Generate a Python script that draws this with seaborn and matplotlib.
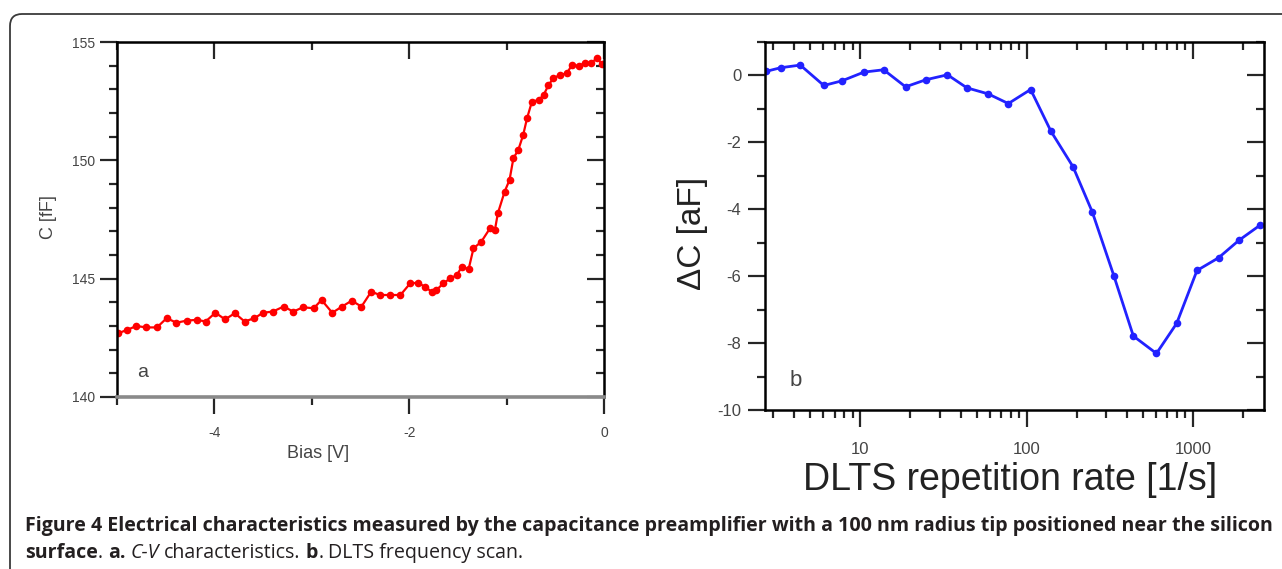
import numpy as np
import matplotlib.pyplot as plt
import seaborn as sns
from matplotlib.ticker import MultipleLocator, LogLocator, NullFormatter, FuncFormatter
from matplotlib.patches import FancyBboxPatch
from matplotlib.transforms import IdentityTransform

sns.set_style('ticks')
plt.rcParams['font.family'] = ['Liberation Sans', 'DejaVu Sans']
plt.rcParams['axes.unicode_minus'] = False

# panel a: C-V curve
bias = [-4.99, -4.90, -4.80, -4.70, -4.59, -4.49, -4.39, -4.28, -4.18, -4.09,
        -3.99, -3.89, -3.79, -3.69, -3.59, -3.50, -3.40, -3.29, -3.19, -3.09,
        -2.98, -2.90, -2.79, -2.69, -2.59, -2.49, -2.39, -2.30, -2.20, -2.09,
        -1.99, -1.91, -1.84, -1.77, -1.72, -1.65, -1.58, -1.51, -1.46, -1.39,
        -1.34, -1.26, -1.17, -1.12, -1.09, -1.02, -0.97, -0.93, -0.88, -0.83,
        -0.79, -0.74, -0.67, -0.62, -0.57, -0.52, -0.45, -0.38, -0.33, -0.26,
        -0.20, -0.13, -0.07, -0.02]
cap = [142.69, 142.83, 143.00, 142.94, 142.94, 143.33, 143.14, 143.23, 143.26, 143.19,
       143.56, 143.28, 143.54, 143.19, 143.33, 143.56, 143.61, 143.82, 143.61, 143.79,
       143.75, 144.10, 143.56, 143.82, 144.07, 143.82, 144.45, 144.31, 144.31, 144.31,
       144.80, 144.83, 144.66, 144.45, 144.52, 144.80, 145.01, 145.15, 145.51, 145.40,
       146.28, 146.56, 147.13, 147.06, 147.76, 148.68, 149.17, 150.09, 150.44, 151.07,
       151.78, 152.48, 152.55, 152.76, 153.18, 153.47, 153.61, 153.68, 154.03, 153.99,
       154.10, 154.13, 154.31, 154.06]

# panel b: DLTS frequency scan
rate = [2.7, 3.31, 4.35, 6.03, 7.76, 10.5, 13.8, 18.7, 24.7, 33.4, 43.7, 58.6,
        77.6, 105.6, 140, 190, 248, 334, 438, 603, 798, 1057, 1425, 1887, 2524]
dcap = [0.12, 0.23, 0.31, -0.30, -0.16, 0.10, 0.17, -0.34, -0.13, 0.02, -0.37, -0.55,
        -0.84, -0.42, -1.67, -2.73, -4.08, -5.98, -7.79, -8.31, -7.41, -5.83, -5.45,
        -4.93, -4.48]

W, H = 1282, 569
fig = plt.figure(figsize=(W / 100, H / 100), dpi=100)

# rounded frame round the figure
frame = FancyBboxPatch((10, -30), 1320, H - 14 + 30, boxstyle='round,pad=0,rounding_size=12',
                       transform=IdentityTransform(), fill=False, edgecolor='#3a3a3a', linewidth=1.3)
fig.add_artist(frame)


def add_mirror(ax, xloc, xminor, yloc, yminor):
    # Origin style: mirrored ticks pointing inwards on top and right
    top = ax.secondary_xaxis('top')
    right = ax.secondary_yaxis('right')
    top.xaxis.set_major_locator(xloc)
    top.xaxis.set_minor_locator(xminor)
    top.xaxis.set_major_formatter(NullFormatter())
    top.xaxis.set_minor_formatter(NullFormatter())
    right.yaxis.set_major_locator(yloc)
    right.yaxis.set_minor_locator(yminor)
    right.yaxis.set_major_formatter(NullFormatter())
    for sec in (top, right):
        sec.tick_params(which='both', direction='in', width=1.6)
        sec.tick_params(which='major', length=12)
        sec.tick_params(which='minor', length=6)


def style_axes(ax, lab_size, xpad, ypad):
    for s in ax.spines.values():
        s.set_linewidth(1.8)
        s.set_color('black')
    ax.tick_params(which='both', direction='out', top=False, right=False, width=1.6,
                   labelsize=lab_size, labelcolor='#444444')
    ax.tick_params(which='major', length=12)
    ax.tick_params(which='minor', length=6)
    ax.tick_params(axis='x', pad=xpad)
    ax.tick_params(axis='y', pad=ypad)


# ---- panel a ----
axL = fig.add_axes([117 / W, 1 - 397 / H, 487 / W, 355 / H])
sns.lineplot(x=bias, y=cap, ax=axL, color='#ff0000', marker='o', markersize=5.5,
             markeredgewidth=0, linewidth=1.6)
axL.set_xlim(-5, 0)
axL.set_ylim(140, 155)
axL.xaxis.set_major_locator(MultipleLocator(2))
axL.xaxis.set_minor_locator(MultipleLocator(1))
axL.yaxis.set_major_locator(MultipleLocator(5))
axL.yaxis.set_minor_locator(MultipleLocator(1))
style_axes(axL, 10, 9, 4)
axL.spines['bottom'].set_color('#8a8a8a')
axL.spines['bottom'].set_linewidth(2.6)
add_mirror(axL, MultipleLocator(2), MultipleLocator(1), MultipleLocator(5), MultipleLocator(1))

axL.set_xlabel('Bias [V]', fontsize=13, color='#444444')
axL.set_ylabel('C [fF]', fontsize=13, color='#444444')
axL.xaxis.set_label_coords(0.413, -0.16)
axL.xaxis.label.set_va('center')
axL.yaxis.set_label_coords(-0.14, 0.507)
axL.yaxis.label.set_va('center')
axL.text(0.053, 0.07, 'a', transform=axL.transAxes, fontsize=14, color='#444444',
         ha='center', va='center')

# ---- panel b ----
axR = fig.add_axes([765 / W, 1 - 410 / H, 499 / W, 368 / H])
sns.lineplot(x=rate, y=dcap, ax=axR, color='#2222ff', marker='o', markersize=5.5,
             markeredgewidth=0, linewidth=2)
axR.set_xscale('log')
axR.set_xlim(2.67, 2673)
axR.set_ylim(-10, 1)
axR.xaxis.set_major_locator(LogLocator(base=10))
axR.xaxis.set_minor_locator(LogLocator(base=10, subs=np.arange(2, 10)))
axR.xaxis.set_major_formatter(FuncFormatter(lambda v, _: f'{v:g}'))
axR.xaxis.set_minor_formatter(NullFormatter())
axR.yaxis.set_major_locator(MultipleLocator(2))
axR.yaxis.set_minor_locator(MultipleLocator(1))
style_axes(axR, 12, 11, 5)
add_mirror(axR, LogLocator(base=10), LogLocator(base=10, subs=np.arange(2, 10)),
           MultipleLocator(2), MultipleLocator(1))

axR.set_xlabel('DLTS repetition rate [1/s]', fontsize=27, color='#222222')
axR.set_ylabel('ΔC [aF]', fontsize=24, color='#222222')
axR.xaxis.set_label_coords(0.491, -0.19)
axR.xaxis.label.set_va('center')
axR.yaxis.set_label_coords(-0.146, 0.481)
axR.yaxis.label.set_va('center')
axR.text(0.062, 0.079, 'b', transform=axR.transAxes, fontsize=16, color='#444444',
         ha='center', va='center')

# ---- caption ----
renderer = fig.canvas.get_renderer()
cap_font = ['Open Sans', 'DejaVu Sans']
line1 = ('Figure 4 Electrical characteristics measured by the capacitance preamplifier '
         'with a 100 nm radius tip positioned near the silicon')
size = 13.0
for _ in range(4):
    probe = fig.text(0, 0, line1, fontsize=size, weight='bold', family=cap_font)
    w1 = probe.get_window_extent(renderer).width
    probe.remove()
    size = size * 1245 / w1
fig.text(25 / W, 1 - 526 / H, line1, fontsize=size, weight='bold', family=cap_font,
         color='#231f20', ha='left', va='center')

probe = fig.text(0, 0, 'a a', fontsize=size, family=cap_font)
probe2 = fig.text(0, 0, 'aa', fontsize=size, family=cap_font)
space = probe.get_window_extent(renderer).width - probe2.get_window_extent(renderer).width
probe.remove()
probe2.remove()

parts = [('surface', 'bold', 'normal', False), ('.', 'normal', 'normal', True),
         ('a.', 'bold', 'normal', True), ('C-V', 'normal', 'italic', True),
         ('characteristics.', 'normal', 'normal', True), ('b', 'bold', 'normal', False),
         ('.', 'normal', 'normal', True), ('DLTS frequency scan.', 'normal', 'normal', False)]
x = 25
for txt, wt, st, gap in parts:
    t = fig.text(x / W, 1 - 553 / H, txt, fontsize=size, weight=wt, style=st, family=cap_font,
                 color='#231f20', ha='left', va='center')
    x += t.get_window_extent(renderer).width + (space if gap else 0)

fig.savefig('out.png', dpi=100)
